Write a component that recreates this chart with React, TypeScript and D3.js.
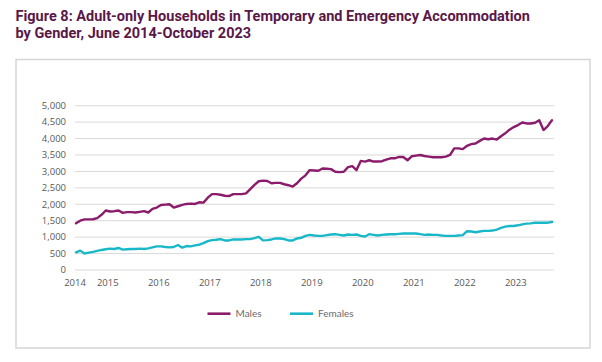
import * as d3 from "d3";

// monthly categories, June 2014 - October 2023
const months = d3
  .timeMonth.range(new Date(2014, 5, 1), new Date(2023, 10, 1))
  .map((d) => d3.timeFormat("%Y-%m")(d));

const yearTicks = [
  { month: "2014-06", label: "2014" },
  { month: "2015-01", label: "2015" },
  { month: "2016-01", label: "2016" },
  { month: "2017-01", label: "2017" },
  { month: "2018-01", label: "2018" },
  { month: "2019-01", label: "2019" },
  { month: "2020-01", label: "2020" },
  { month: "2021-01", label: "2021" },
  { month: "2022-01", label: "2022" },
  { month: "2023-01", label: "2023" },
];

const yTicks = [0, 500, 1000, 1500, 2000, 2500, 3000, 3500, 4000, 4500, 5000];

const males = [
  1420, 1500, 1540, 1540, 1545, 1580, 1680, 1810, 1780, 1790, 1810, 1740,
  1760, 1760, 1750, 1770, 1790, 1750, 1860, 1900, 1980, 1990, 2000, 1900,
  1940, 1980, 2010, 2020, 2010, 2060, 2050, 2200, 2310, 2310, 2290, 2260,
  2250, 2310, 2310, 2310, 2330, 2460, 2590, 2700, 2720, 2710, 2640, 2650,
  2650, 2610, 2580, 2540, 2640, 2780, 2880, 3040, 3030, 3020, 3090, 3080,
  3070, 2990, 2980, 2990, 3130, 3160, 3040, 3320, 3300, 3340, 3300, 3300,
  3310, 3360, 3400, 3400, 3440, 3440, 3340, 3460, 3480, 3500, 3470, 3450,
  3430, 3430, 3430, 3450, 3500, 3700, 3700, 3680, 3780, 3830, 3850, 3930,
  4000, 3980, 4000, 3970, 4070, 4160, 4270, 4350, 4410, 4490, 4460, 4460,
  4480, 4560, 4260, 4380, 4560,
];

const females = [
  540, 590, 500, 530, 550, 580, 610, 630, 650, 640, 670, 620,
  630, 640, 640, 650, 640, 660, 690, 720, 720, 700, 690, 700,
  760, 680, 730, 720, 750, 770, 820, 880, 910, 920, 940, 900,
  900, 930, 930, 930, 940, 940, 970, 1010, 900, 910, 930, 960,
  960, 940, 900, 900, 960, 980, 1040, 1070, 1050, 1040, 1040, 1060,
  1080, 1090, 1070, 1050, 1080, 1070, 1080, 1040, 1020, 1090, 1070, 1050,
  1070, 1080, 1090, 1090, 1100, 1110, 1110, 1110, 1110, 1090, 1070, 1080,
  1070, 1070, 1050, 1040, 1040, 1040, 1050, 1060, 1180, 1170, 1150, 1170,
  1190, 1190, 1200, 1230, 1280, 1320, 1340, 1340, 1360, 1390, 1410, 1420,
  1440, 1440, 1440, 1440, 1460,
];

const series = [
  { name: "Males", values: males, color: "#8a1c6b" },
  { name: "Females", values: females, color: "#19b8c9" },
];

const titleLines = [
  "Figure 8: Adult-only Households in Temporary and Emergency Accommodation",
  "by Gender, June 2014-October 2023",
];

export default function App() {
  const width = 602;
  const height = 362;

  const x = d3.scalePoint<string>().domain(months).range([76, 552]);
  const y = d3.scaleLinear().domain([0, 5000]).range([270, 105.7]);

  const line = d3
    .line<number>()
    .x((_, i) => x(months[i]) as number)
    .y((d) => y(d));

  const axisFont = "'Open Sans', 'Liberation Sans', sans-serif";

  return (
    <svg
      width={width}
      height={height}
      style={{ position: "absolute", left: 0, top: 0, background: "#fff" }}
    >
      {/* title */}
      {titleLines.map((t, i) => (
        <text
          key={i}
          x={15.5}
          y={20.7 + i * 16.8}
          fill="#5a1848"
          fontFamily="Roboto, 'Open Sans', sans-serif"
          fontWeight={700}
          fontSize={14.5}
        >
          {t}
        </text>
      ))}

      {/* chart frame */}
      <rect
        x={16}
        y={59.5}
        width={574}
        height={288.5}
        fill="none"
        stroke="#d6d6d6"
        strokeWidth={1.5}
      />

      {/* gridlines + y labels */}
      {yTicks.map((t) => (
        <g key={t}>
          <line
            x1={75}
            x2={554}
            y1={y(t)}
            y2={y(t)}
            stroke="#d9d9d9"
            strokeWidth={1}
          />
          <text
            x={66}
            y={y(t)}
            dy="0.35em"
            textAnchor="end"
            fill="#595959"
            fontFamily={axisFont}
            fontSize={9.5}
          >
            {d3.format(",")(t)}
          </text>
        </g>
      ))}

      {/* x labels */}
      {yearTicks.map((t) => (
        <text
          key={t.label}
          x={(x(t.month) as number) + (t.label === "2014" ? -1 : 2)}
          y={283}
          dy="0.35em"
          textAnchor="middle"
          fill="#595959"
          fontFamily={axisFont}
          fontSize={9.5}
        >
          {t.label}
        </text>
      ))}

      {/* lines */}
      {series.map((s) => (
        <path
          key={s.name}
          d={line(s.values) ?? ""}
          fill="none"
          stroke={s.color}
          strokeWidth={2.4}
          strokeLinejoin="round"
          strokeLinecap="round"
        />
      ))}

      {/* legend */}
      {series.map((s, i) => {
        const lx = 207.5 + i * 82.5;
        return (
          <g key={s.name}>
            <line
              x1={lx}
              x2={lx + 23}
              y1={313.7}
              y2={313.7}
              stroke={s.color}
              strokeWidth={2.6}
            />
            <text
              x={lx + 28}
              y={313.7}
              dy="0.35em"
              fill="#6b6b6b"
              fontFamily="Lato, 'Open Sans', sans-serif"
              fontSize={10}
            >
              {s.name}
            </text>
          </g>
        );
      })}
    </svg>
  );
}
